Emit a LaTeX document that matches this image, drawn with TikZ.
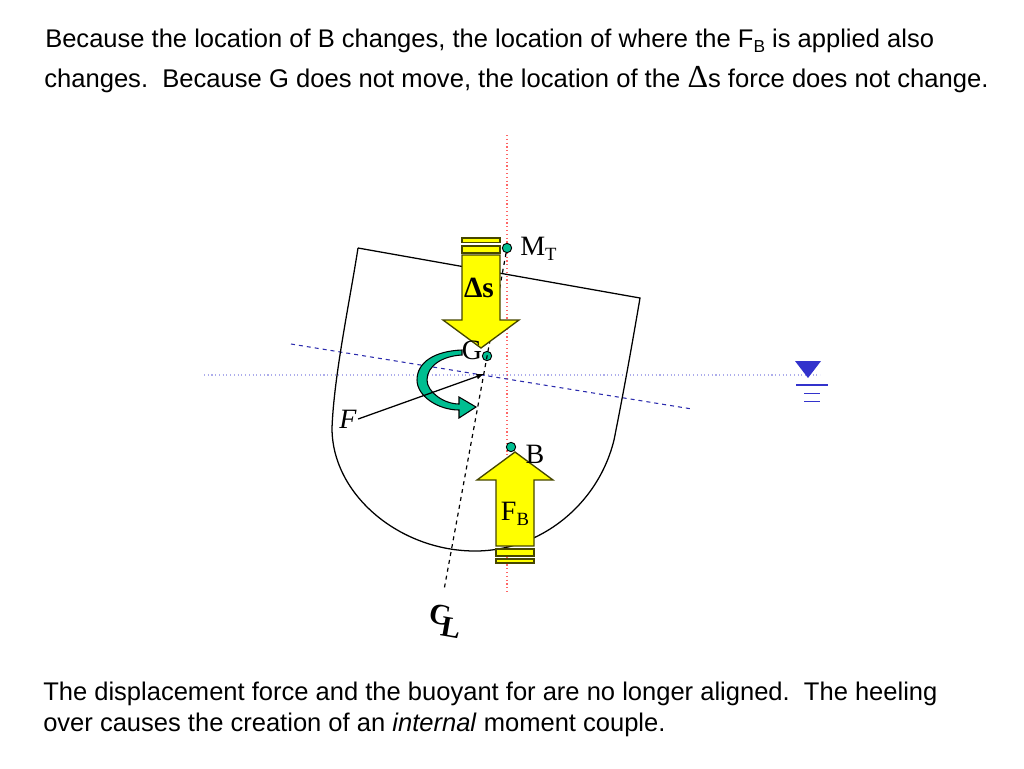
\documentclass[tikz,border=0pt]{standalone}
\usepackage{fontspec}
\setmainfont{Liberation Sans}
\newfontfamily\labelfont{Liberation Serif}
\definecolor{forceyellow}{RGB}{255,255,0}
\definecolor{forceedge}{RGB}{70,70,0}
\definecolor{dotgreen}{RGB}{0,190,145}
\definecolor{waterblue}{RGB}{51,51,204}
\tikzset{
  bodytext/.style={anchor=base west,inner sep=0pt,font=\fontsize{19.15}{19.15}\selectfont},
  marktext/.style={inner sep=0pt,font=\labelfont\fontsize{21}{21}\selectfont},
  centerdot/.style={circle,draw=black,fill=dotgreen,line width=0.7pt,inner sep=0pt,minimum size=7pt},
  forcebox/.style={draw=forceedge,fill=forceyellow,line width=1pt},
  waterline/.style={waterblue,line width=1.3pt}
}
\begin{document}
\begin{tikzpicture}[x=0.75pt,y=-0.75pt]
  \useasboundingbox (0,0) rectangle (1024,768);

  \node[bodytext] (topa) at (45,47) {Because the location of B changes, the location of where the F\raisebox{-0.2em}{\fontsize{13}{13}\selectfont B} is applied also};
  \node[bodytext,font=\fontsize{19.2}{19.2}\selectfont] (topb) at (44,87) {changes.\ \ Because G does not move, the location of the {\labelfont\fontsize{24}{24}\selectfont Δ}s force does not change.};
  \node[bodytext] (bota) at (43,700) {The displacement force and the buoyant for are no longer aligned.\ \ The heeling};
  \node[bodytext] (botb) at (43,731) {over causes the creation of an \textit{internal} moment couple.};

  % reference lines
  \draw[red!60,dotted,line width=0.85pt] (507,135) -- (507,592);
  \draw[waterblue!40,dotted,line width=0.8pt] (204,375) -- (820,375);
  \draw[waterblue!85!black,dashed,line width=0.8pt] (291,344) -- (692,409);

  % hull
  \draw[line width=0.95pt] (358,248) -- (640,298)
    .. controls (632,345) and (624,390) .. (614,440)
    .. controls (598,505) and (540,551) .. (475,551)
    .. controls (400,551) and (332,495) .. (332,428)
    .. controls (334,375) and (350,300) .. (358,248);

  \node[centerdot] (mt) at (507,248) {};
  \node[centerdot] (g) at (487,356) {};
  \node[centerdot] (b) at (511,447) {};
  \coordinate (clend) at (444,590);
  \draw[dashed,line width=0.9pt] (mt) -- (clend);

  % water level
  \fill[waterblue] (795,361) -- (821,361) -- (808,378) -- cycle;
  \draw[waterline] (796,385) -- (828,385);
  \draw[waterline] (804,393.5) -- (820,393.5);
  \draw[waterline] (804,401.5) -- (820,401.5);

  % displacement force
  \draw[forcebox] (462,238) rectangle (500,242.5);
  \draw[forcebox] (462,246) rectangle (500,253);
  \draw[forcebox] (462,255) -- (500,255) -- (500,320) -- (519,320) -- (481,348) -- (443,320) -- (462,320) -- cycle;

  % buoyant force
  \draw[forcebox] (496,546) -- (534,546) -- (534,480) -- (553,480) -- (515,452) -- (477,480) -- (496,480) -- cycle;
  \draw[forcebox] (496,549) rectangle (534,556);
  \draw[forcebox] (496,559) rectangle (534,563);

  % moment
  \draw[line width=0.8pt,fill=dotgreen] (462,350)
    .. controls (435,351) and (417,362) .. (417,380)
    .. controls (417,396) and (438,410) .. (459,410)
    -- (459,418) -- (476,407) -- (459,397) -- (459,404)
    .. controls (444,404) and (427,392) .. (427,380)
    .. controls (427,366) and (442,356) .. (462,355) -- cycle;

  \node[marktext,font=\labelfont\itshape\fontsize{21}{21}\selectfont] (f) at (348,419) {F};
  \coordinate (ftip) at (484,374);
  \draw[-latex,line width=0.95pt] (f.east) ++(1pt,0) -- (ftip);

  \node[marktext,anchor=base west] (mtext) at (520,255) {M\raisebox{-0.2em}{\fontsize{14}{14}\selectfont T}};
  \node[marktext,anchor=base] (gtext) at (472,359) {G};
  \node[marktext,anchor=base] (btext) at (535,463) {B};
  \node[marktext,anchor=base] (ftext) at (515,520) {F\raisebox{-0.2em}{\fontsize{14}{14}\selectfont B}};
  \node[marktext,anchor=base,font=\labelfont\bfseries\fontsize{22}{22}\selectfont] (stext) at (479,297) {Δs};
  \node[marktext,font=\labelfont\bfseries\fontsize{22}{22}\selectfont,rotate=-10] (ctext) at (440,615) {C};
  \node[marktext,font=\labelfont\bfseries\fontsize{22}{22}\selectfont,rotate=-10] (ltext) at (451,628) {L};
\end{tikzpicture}
\end{document}
